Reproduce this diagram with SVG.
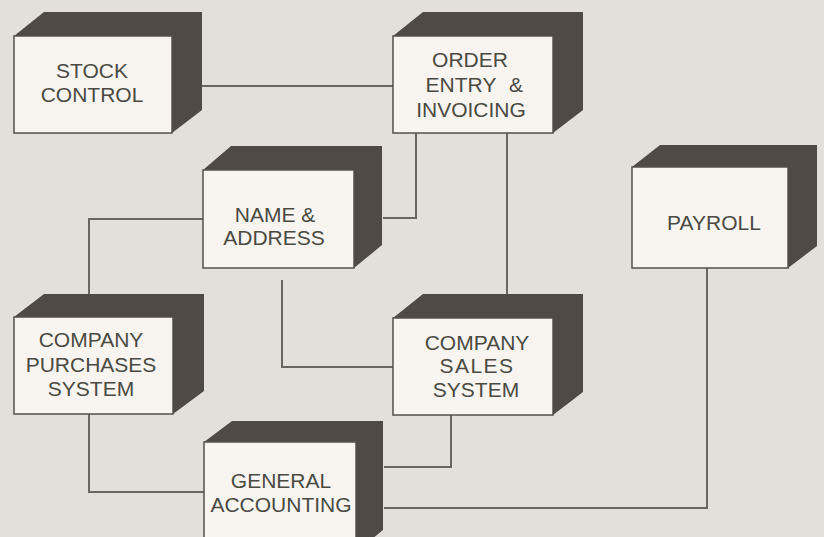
<svg xmlns="http://www.w3.org/2000/svg" width="824" height="537" viewBox="0 0 824 537">
<style>
.bg{fill:#e3dfda}
.ext{fill:#4f4a46}
.face{fill:#f8f5f1;stroke:#55504b;stroke-width:1.5}
.lbl{font-family:"Liberation Sans",Arial,sans-serif;font-size:21px;fill:#4a4a42;text-anchor:middle}
.con{fill:none;stroke:#6a6560;stroke-width:2}
</style>
<rect class="bg" x="0" y="0" width="824" height="537"/>
<g id="connectors">
<path class="con" d="M202,86 H393"/>
<path class="con" d="M416,133 V218 H383"/>
<path class="con" d="M507,133 V295"/>
<path class="con" d="M203,219 H89 V294"/>
<path class="con" d="M282,280 V367 H393"/>
<path class="con" d="M89,414 V492 H204"/>
<path class="con" d="M451,415 V467 H384"/>
<path class="con" d="M707,268 V508 H384"/>
</g>
<g id="stock-control">
<polygon class="ext" points="14,36 44,12 202,12 202,110 172,133 172,36"/>
<rect class="face" x="14" y="36" width="158" height="97"/>
<text class="lbl" x="92" y="78">STOCK</text>
<text class="lbl" x="92" y="102">CONTROL</text>
</g>
<g id="order-entry">
<polygon class="ext" points="393,36 423,12 583,12 583,110 553,133 553,36"/>
<rect class="face" x="393" y="36" width="160" height="97"/>
<text class="lbl" x="470" y="67">ORDER</text>
<text class="lbl" x="461" y="92">ENTRY</text>
<text class="lbl" x="516" y="92">&amp;</text>
<text class="lbl" x="471" y="117">INVOICING</text>
</g>
<g id="name-address">
<polygon class="ext" points="203,170 231,146 382,146 382,245 354,268 354,170"/>
<rect class="face" x="203" y="170" width="151" height="98"/>
<text class="lbl" x="275" y="222">NAME &amp;</text>
<text class="lbl" x="274" y="245">ADDRESS</text>
</g>
<g id="payroll">
<polygon class="ext" points="632,167 660,145 817,145 817,246 788,268 788,167"/>
<rect class="face" x="632" y="167" width="156" height="101"/>
<text class="lbl" x="714" y="230">PAYROLL</text>
</g>
<g id="company-purchases">
<polygon class="ext" points="14,317 44,294 204,294 204,391 173,414 173,317"/>
<rect class="face" x="14" y="317" width="159" height="97"/>
<text class="lbl" x="91" y="347">COMPANY</text>
<text class="lbl" x="91" y="372">PURCHASES</text>
<text class="lbl" x="91" y="396">SYSTEM</text>
</g>
<g id="company-sales">
<polygon class="ext" points="393,318 423,294 583,294 583,392 553,415 553,318"/>
<rect class="face" x="393" y="318" width="160" height="97"/>
<text class="lbl" x="477" y="350">COMPANY</text>
<text class="lbl" x="477" y="373" letter-spacing="1.5">SALES</text>
<text class="lbl" x="476" y="397">SYSTEM</text>
</g>
<g id="general-accounting">
<polygon class="ext" points="204,442 232,421 383,421 383,530 356,552 356,442"/>
<rect class="face" x="204" y="442" width="152" height="110"/>
<text class="lbl" x="281" y="488">GENERAL</text>
<text class="lbl" x="281" y="512">ACCOUNTING</text>
</g>
</svg>
